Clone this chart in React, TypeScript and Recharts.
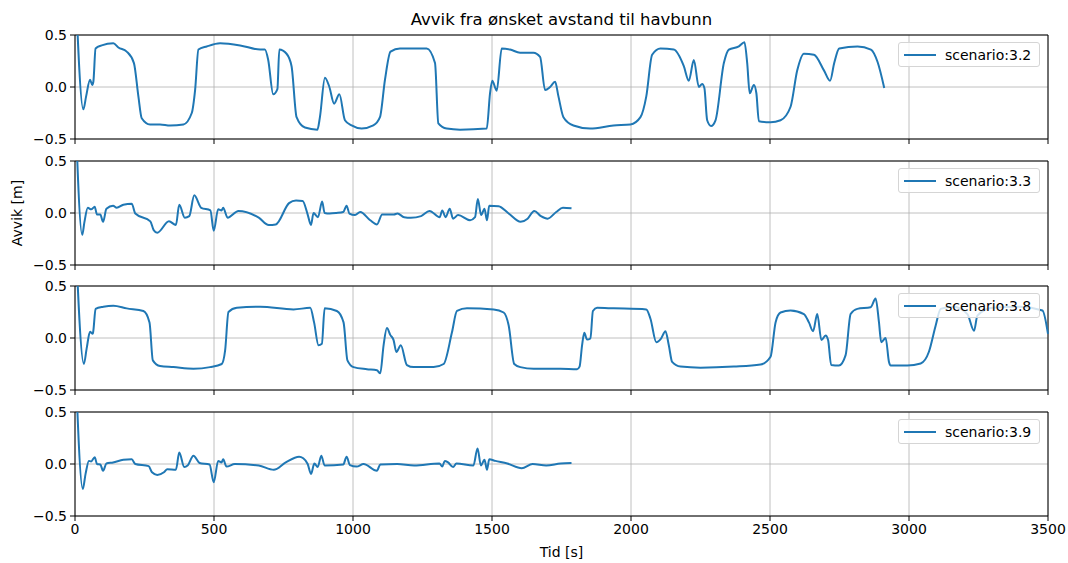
import { CartesianGrid, Line, LineChart, ReferenceLine, XAxis, YAxis } from "recharts";

// time [s] and deviation [m], per scenario
const t32 = [0, 30, 40, 54, 62, 66, 74, 96, 138, 156, 186, 212, 228, 240, 270, 306, 342, 390, 420, 432, 444, 474, 522, 594, 666, 683, 695, 713, 728, 735, 761, 779, 797, 827, 872, 881, 899, 915, 932, 951, 971, 995, 1031, 1073, 1097, 1115, 1135, 1169, 1265, 1295, 1307, 1337, 1385, 1481, 1493, 1501, 1517, 1535, 1565, 1601, 1649, 1673, 1691, 1709, 1727, 1739, 1757, 1793, 1853, 1937, 1998, 2034, 2055, 2076, 2106, 2154, 2190, 2208, 2226, 2244, 2256, 2264, 2274, 2288, 2304, 2334, 2352, 2388, 2408, 2418, 2427, 2442, 2451, 2460, 2502, 2538, 2574, 2598, 2622, 2658, 2694, 2716, 2731, 2749, 2815, 2863, 2887, 2911];
const v32 = [1.1, -0.215, -0.09, 0.07, 0.02, 0.05, 0.37, 0.4, 0.42, 0.38, 0.34, 0.23, -0.09, -0.3, -0.36, -0.36, -0.37, -0.36, -0.25, -0.03, 0.36, 0.39, 0.42, 0.4, 0.36, 0.36, 0.26, -0.07, -0.02, 0.36, 0.32, 0.2, -0.29, -0.39, -0.41, -0.29, 0.09, 0.0, -0.16, -0.07, -0.32, -0.37, -0.4, -0.37, -0.29, 0.07, 0.34, 0.37, 0.37, 0.23, -0.35, -0.4, -0.41, -0.4, -0.06, 0.06, -0.035, 0.37, 0.36, 0.33, 0.33, 0.29, -0.03, 0, 0.05, -0.09, -0.29, -0.37, -0.4, -0.37, -0.36, -0.29, -0.09, 0.31, 0.37, 0.36, 0.2, 0.06, 0.26, 0, 0.03, -0.01, -0.32, -0.375, -0.32, 0.23, 0.36, 0.39, 0.43, 0.23, -0.06, 0.02, -0.06, -0.33, -0.34, -0.32, -0.19, 0.16, 0.32, 0.31, 0.16, 0.06, 0.23, 0.37, 0.39, 0.36, 0.24, -0.01];

const t33 = [0, 26, 34, 46, 58, 71, 79, 91, 101, 113, 137, 150, 174, 204, 217, 271, 283, 296, 338, 363, 375, 395, 411, 429, 454, 487, 499, 515, 527, 533, 549, 588, 661, 697, 722, 770, 795, 819, 837, 849, 858, 874, 889, 898, 916, 940, 965, 977, 987, 1007, 1026, 1062, 1086, 1105, 1147, 1160, 1184, 1208, 1245, 1275, 1312, 1321, 1333, 1348, 1360, 1378, 1421, 1439, 1449, 1461, 1473, 1482, 1490, 1524, 1560, 1603, 1628, 1652, 1676, 1700, 1731, 1755, 1786];
const v33 = [1.1, -0.21, -0.085, 0.05, 0.035, 0.06, -0.015, -0.015, -0.085, 0.04, 0.07, 0.05, 0.08, 0.09, -0.005, -0.08, -0.165, -0.19, -0.08, -0.115, 0.08, -0.045, -0.03, 0.17, 0.05, 0.025, -0.17, 0.035, 0.025, 0.05, -0.045, 0.02, -0.045, -0.115, -0.11, 0.095, 0.12, 0.115, -0.015, -0.115, 0, -0.04, 0.11, 0, -0.005, 0, 0.01, 0.07, -0.005, -0.02, 0.01, -0.07, -0.11, -0.015, -0.015, -0.005, -0.04, -0.045, -0.03, 0.02, -0.04, 0.025, -0.04, 0.04, -0.055, -0.02, -0.07, -0.04, 0.135, -0.02, 0.04, -0.07, 0.07, 0.065, -0.005, -0.085, -0.055, 0.02, -0.03, -0.055, 0.01, 0.05, 0.045];

const t38 = [0, 32, 42, 54, 64, 66, 74, 102, 138, 186, 246, 268, 280, 306, 354, 426, 486, 528, 540, 552, 582, 666, 786, 846, 860, 876, 888, 898, 942, 966, 980, 1002, 1050, 1086, 1098, 1110, 1122, 1134, 1146, 1156, 1172, 1194, 1218, 1290, 1326, 1356, 1374, 1410, 1506, 1542, 1560, 1580, 1602, 1650, 1746, 1806, 1815, 1824, 1832, 1842, 1854, 1863, 1878, 1938, 2055, 2070, 2091, 2108, 2124, 2136, 2148, 2178, 2250, 2370, 2466, 2502, 2520, 2538, 2574, 2622, 2640, 2655, 2670, 2685, 2700, 2709, 2720, 2748, 2772, 2790, 2814, 2862, 2880, 2892, 2900, 2916, 2928, 2934, 2994, 3042, 3072, 3096, 3114, 3160, 3210, 3234, 3246, 3300, 3400, 3480, 3500];
const v38 = [1.1, -0.25, -0.1, 0.06, 0.04, 0.07, 0.28, 0.3, 0.31, 0.285, 0.26, 0.15, -0.215, -0.27, -0.28, -0.295, -0.28, -0.25, -0.12, 0.25, 0.29, 0.3, 0.275, 0.29, 0.15, -0.07, -0.055, 0.285, 0.26, 0.15, -0.215, -0.28, -0.3, -0.31, -0.34, -0.07, 0.095, 0.03, -0.02, -0.135, -0.07, -0.26, -0.28, -0.28, -0.25, 0.055, 0.26, 0.285, 0.275, 0.245, 0.12, -0.25, -0.28, -0.295, -0.295, -0.3, -0.275, -0.07, 0.05, -0.015, -0.005, 0.26, 0.29, 0.285, 0.275, 0.185, -0.04, -0.005, 0.065, -0.07, -0.23, -0.275, -0.285, -0.275, -0.255, -0.18, 0.15, 0.245, 0.265, 0.23, 0.15, 0.065, 0.23, -0.02, 0.025, -0.02, -0.26, -0.265, -0.165, 0.23, 0.28, 0.295, 0.38, 0.15, -0.04, 0, -0.23, -0.265, -0.265, -0.245, -0.13, 0.12, 0.28, 0.3, 0.23, 0.07, 0.215, 0.29, 0.3, 0.265, 0.04];

const t39 = [0, 28, 38, 50, 58, 71, 79, 91, 101, 113, 137, 174, 204, 217, 265, 277, 296, 320, 332, 363, 375, 393, 405, 426, 448, 484, 499, 515, 527, 533, 545, 575, 661, 715, 758, 806, 821, 837, 849, 861, 873, 886, 898, 965, 977, 989, 1013, 1038, 1086, 1098, 1159, 1220, 1311, 1321, 1330, 1342, 1360, 1372, 1433, 1448, 1460, 1473, 1482, 1490, 1512, 1555, 1607, 1646, 1695, 1747, 1786];
const v39 = [1.1, -0.24, -0.095, 0.03, 0.025, 0.065, 0, -0.005, -0.065, 0.005, 0.015, 0.04, 0.045, 0, -0.02, -0.08, -0.105, -0.08, -0.05, -0.055, 0.11, -0.03, -0.015, 0.08, 0.01, -0.005, -0.175, 0.03, 0.015, 0.045, -0.025, 0, -0.015, -0.055, 0.015, 0.07, 0.055, 0, -0.095, 0.005, -0.03, 0.08, -0.015, -0.005, 0.07, -0.01, -0.025, 0, -0.065, -0.005, 0, -0.015, 0.005, -0.025, 0.03, 0.015, -0.03, 0.005, -0.015, 0.15, -0.015, 0.04, -0.055, 0.045, 0.03, 0.005, -0.04, 0, -0.015, 0.005, 0.01];

const scenarios = ["scenario:3.2", "scenario:3.3", "scenario:3.8", "scenario:3.9"];
const xTicks = [0, 500, 1000, 1500, 2000, 2500, 3000, 3500];
const yTicks = [-0.5, 0, 0.5];

const zip = (t: number[], v: number[]) => t.map((x, i) => ({ t: x, v: v[i] }));
const series = [zip(t32, v32), zip(t33, v33), zip(t38, v38), zip(t39, v39)];

const font = "DejaVu Sans";
const blue = "#1f77b4";
const tickStyle = { fontSize: 14, fill: "#000", fontFamily: font };
const fmtY = (v: number) => (v < 0 ? "\u2212" : "") + Math.abs(v).toFixed(1);

const panelTops = [35, 161, 286, 412];
const plotH = 104;

function Panel({ top, data, name, last }: { top: number; data: { t: number; v: number }[]; name: string; last: boolean }) {
  const xh = last ? 30 : 10;
  return (
    <div style={{ position: "absolute", left: 0, top: top - 10 }}>
      <LineChart width={1068} height={10 + plotH + xh} data={data} margin={{ top: 10, right: 20, bottom: 0, left: 35 }}>
        <CartesianGrid stroke="#b0b0b0" strokeWidth={0.8} strokeDasharray="" />
        <XAxis
          type="number"
          dataKey="t"
          domain={[0, 3500]}
          ticks={xTicks}
          height={xh}
          tickSize={5}
          tickMargin={3}
          stroke="#000"
          tick={tickStyle}
          tickFormatter={last ? (v: number) => String(v) : () => ""}
          interval={0}
        />
        <YAxis
          type="number"
          domain={[-0.5, 0.5]}
          ticks={yTicks}
          allowDataOverflow
          width={40}
          tickSize={5}
          tickMargin={3}
          stroke="#000"
          tick={tickStyle}
          tickFormatter={fmtY}
          interval={0}
        />
        <ReferenceLine y={0.5} stroke="#000" strokeWidth={1} />
        <ReferenceLine x={3500} stroke="#000" strokeWidth={1} />
        <Line type="monotone" dataKey="v" stroke={blue} strokeWidth={2} dot={false} isAnimationActive={false} />
      </LineChart>
      <div
        style={{
          position: "absolute",
          left: 898,
          top: 17,
          width: 142,
          height: 25,
          boxSizing: "border-box",
          border: "1px solid #d5d5d5",
          borderRadius: 3,
          background: "rgba(255,255,255,0.8)",
          display: "flex",
          alignItems: "center",
          fontFamily: font,
          fontSize: 14,
        }}
      >
        <div style={{ marginLeft: 5, width: 32, height: 2, background: blue }} />
        <span style={{ marginLeft: 9 }}>{name}</span>
      </div>
    </div>
  );
}

export default function App() {
  return (
    <div style={{ position: "absolute", left: 0, top: 0, width: 1068, height: 563, background: "#fff", fontFamily: font }}>
      <div style={{ position: "absolute", left: 75, width: 973, top: 9, textAlign: "center", fontSize: 16.5, lineHeight: "22px" }}>
        Avvik fra ønsket avstand til havbunn
      </div>
      {series.map((d, i) => (
        <Panel key={i} top={panelTops[i]} data={d} name={scenarios[i]} last={i === 3} />
      ))}
      <div
        style={{
          position: "absolute",
          left: 17,
          top: 213,
          transform: "translate(-50%, -50%) rotate(-90deg)",
          fontSize: 14,
          whiteSpace: "nowrap",
        }}
      >
        Avvik [m]
      </div>
      <div style={{ position: "absolute", left: 75, width: 973, top: 542, textAlign: "center", fontSize: 14, lineHeight: "20px" }}>
        Tid [s]
      </div>
    </div>
  );
}
